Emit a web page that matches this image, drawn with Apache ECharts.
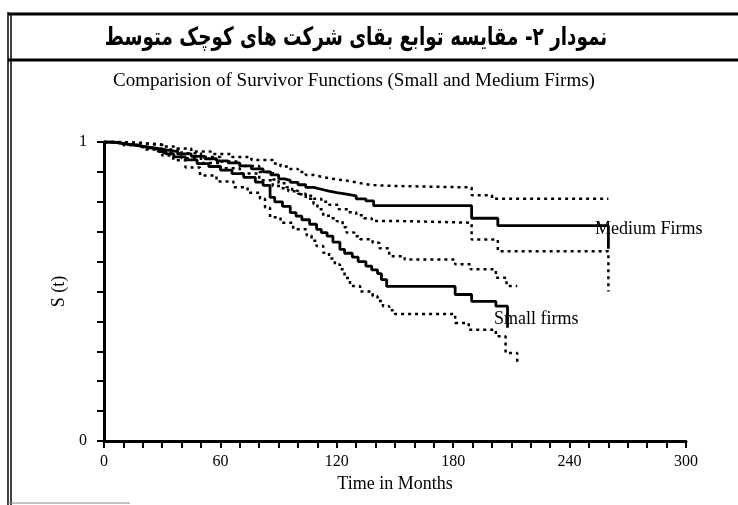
<!DOCTYPE html>
<html>
<head>
<meta charset="utf-8">
<style>
  html, body { margin: 0; padding: 0; background: #fff; }
  #chart { width: 738px; height: 505px; }
</style>
<script src="https://cdn.jsdelivr.net/npm/echarts@6/dist/echarts.min.js"></script>
</head>
<body>
<div id="chart"></div>
<script>
// Kaplan-Meier curves: [month, S(t)]
var mediumFirms = [
  [0, 1], [5, 0.995], [10, 0.99], [15, 0.985], [20, 0.98], [26, 0.974], [32, 0.968],
  [38, 0.96], [45, 0.952], [52, 0.944], [58, 0.937], [64, 0.93], [70, 0.92], [76, 0.91],
  [82, 0.9], [86, 0.89], [90, 0.877], [93, 0.872], [96, 0.865], [100, 0.857], [104, 0.848],
  [108, 0.842], [112, 0.836], [116, 0.831], [120, 0.826], [125, 0.82], [130, 0.81],
  [135, 0.803], [139, 0.787], [189.5, 0.745], [203, 0.72], [260, 0.643]
]
var mediumUpper = [
  [0, 1], [10, 0.997], [20, 0.992], [30, 0.985], [36, 0.978], [45, 0.968], [55, 0.96],
  [66, 0.95], [76, 0.94], [87, 0.928], [91, 0.918], [95, 0.91], [100, 0.9], [104, 0.89],
  [108, 0.884], [112, 0.878], [117, 0.874], [121, 0.87], [126, 0.865], [130, 0.86],
  [134, 0.856], [138, 0.853], [150, 0.848], [189.5, 0.822], [200, 0.81], [260, 0.81]
]
var mediumLower = [
  [0, 1], [10, 0.99], [20, 0.978], [30, 0.962], [40, 0.946], [50, 0.93], [60, 0.912],
  [70, 0.895], [80, 0.872], [87, 0.853], [91, 0.845], [95, 0.835], [100, 0.827],
  [104, 0.82], [108, 0.81], [112, 0.8], [116, 0.79], [121, 0.775], [126, 0.765],
  [130, 0.755], [134, 0.745], [138, 0.736], [150, 0.73], [189.5, 0.674], [203, 0.635],
  [260, 0.5]
]
var smallFirms = [
  [0, 1], [4, 0.997], [8, 0.993], [12, 0.99], [16, 0.985], [20, 0.98], [24, 0.975],
  [28, 0.968], [32, 0.96], [36, 0.95], [42, 0.94], [48, 0.928], [54, 0.918], [60, 0.906],
  [66, 0.894], [72, 0.882], [78, 0.866], [82, 0.855], [85.6, 0.815], [88, 0.8],
  [92, 0.785], [96, 0.764], [99, 0.752], [102, 0.74], [106, 0.725], [109.6, 0.708],
  [112, 0.697], [115, 0.685], [118, 0.665], [121.6, 0.641], [124, 0.628], [128, 0.615],
  [131, 0.6], [135, 0.585], [138, 0.572], [141, 0.56], [143, 0.54], [145.7, 0.517],
  [181, 0.49], [189.5, 0.467], [202, 0.451], [208, 0.379]
]
var smallUpper = [
  [0, 1], [10, 0.995], [20, 0.99], [30, 0.975], [40, 0.962], [50, 0.95], [60, 0.935],
  [70, 0.92], [80, 0.9], [87, 0.875], [90, 0.862], [94, 0.849], [97, 0.837], [100, 0.825],
  [104, 0.81], [108, 0.793], [110, 0.775], [113, 0.753], [117, 0.745], [120, 0.735],
  [123, 0.715], [125, 0.697], [129, 0.685], [132, 0.675], [138.5, 0.663], [142, 0.645],
  [147, 0.618], [155, 0.607], [181, 0.591], [189, 0.574], [202, 0.546], [207.5, 0.518],
  [213, 0.518]
]
var smallLower = [
  [0, 1], [10, 0.99], [20, 0.975], [30, 0.955], [35.7, 0.939], [42, 0.915], [49.5, 0.888],
  [58, 0.868], [66.7, 0.849], [74, 0.83], [80.4, 0.81], [83, 0.78], [85.6, 0.748],
  [91, 0.73], [97.5, 0.708], [104.5, 0.687], [107, 0.67], [109.6, 0.652], [113, 0.63],
  [116, 0.61], [119, 0.59], [121.6, 0.574], [124, 0.545], [126.8, 0.518], [132, 0.5],
  [138.5, 0.484], [141, 0.468], [143.8, 0.451], [147, 0.437], [150, 0.425], [181, 0.395],
  [188, 0.372], [202, 0.35], [207, 0.294], [213, 0.26]
]
var xLabelTicks = [0, 60, 120, 180, 240, 300]
var yLabelTicks = [0, 1]

var chart = echarts.init(document.getElementById('chart'))

function curve(name, data, dotted) {
  return {
    name: name,
    type: 'line',
    step: 'end',
    showSymbol: false,
    symbol: 'none',
    data: data,
    lineStyle: dotted
      ? { color: '#000', width: 2.5, type: [3, 4] }
      : { color: '#000', width: 2.8 }
  }
}

var serif = '"Liberation Serif", "DejaVu Serif", serif'

chart.setOption({
  animation: false,
  backgroundColor: '#fff',
  grid: { left: 104, right: 52, top: 142, bottom: 64 },
  xAxis: {
    type: 'value',
    min: 0,
    max: 300,
    interval: 10,
    name: 'Time in Months',
    nameLocation: 'middle',
    nameGap: 33,
    nameTextStyle: { color: '#000', fontSize: 18, fontFamily: serif },
    axisLine: { lineStyle: { color: '#000', width: 3 } },
    axisTick: { length: 7, lineStyle: { color: '#000', width: 2 } },
    axisLabel: {
      color: '#000', fontSize: 16, fontFamily: serif, margin: 13,
      formatter: function (v) { return xLabelTicks.indexOf(v) >= 0 ? String(v) : '' }
    },
    splitLine: { show: false }
  },
  yAxis: {
    type: 'value',
    min: 0,
    max: 1,
    interval: 0.1,
    name: 'S (t)',
    nameLocation: 'middle',
    nameGap: 33,
    nameRotate: 90,
    nameTextStyle: { color: '#000', fontSize: 18, fontFamily: serif },
    axisLine: { show: true, lineStyle: { color: '#000', width: 3 } },
    axisTick: { show: true, length: 7, lineStyle: { color: '#000', width: 2 } },
    axisLabel: {
      color: '#000', fontSize: 16, fontFamily: serif, margin: 17,
      formatter: function (v) {
        var r = Math.round(v * 10) / 10
        return yLabelTicks.indexOf(r) >= 0 ? String(r) : ''
      }
    },
    splitLine: { show: false }
  },
  series: [
    curve('Medium Firms', mediumFirms, false),
    curve('Medium upper', mediumUpper, true),
    curve('Medium lower', mediumLower, true),
    curve('Small firms', smallFirms, false),
    curve('Small upper', smallUpper, true),
    curve('Small lower', smallLower, true)
  ],
  graphic: [
    // frame of the scanned page
    { type: 'line', shape: { x1: 8, y1: 14, x2: 738, y2: 14 }, style: { stroke: '#000', lineWidth: 3 } },
    { type: 'line', shape: { x1: 8, y1: 60, x2: 738, y2: 60 }, style: { stroke: '#000', lineWidth: 3 } },
    { type: 'line', shape: { x1: 8, y1: 12, x2: 8, y2: 505 }, style: { stroke: '#000', lineWidth: 1.5 } },
    { type: 'line', shape: { x1: 11, y1: 14, x2: 11, y2: 505 }, style: { stroke: '#000', lineWidth: 1.5 } },
    { type: 'line', shape: { x1: 8, y1: 503, x2: 130, y2: 503 }, style: { stroke: '#888', lineWidth: 1 } },
    {
      type: 'text', x: 356, y: 38, scaleX: 0.8, scaleY: 1.1,
      style: {
        text: 'نمودار ۲- مقایسه توابع بقای شرکت های کوچک متوسط',
        fill: '#000', font: 'bold 23px "DejaVu Sans", sans-serif',
        align: 'center', verticalAlign: 'middle'
      }
    },
    {
      type: 'text', x: 354, y: 81,
      style: {
        text: 'Comparision of Survivor Functions (Small and Medium Firms)',
        fill: '#000', font: '19px ' + serif,
        align: 'center', verticalAlign: 'middle'
      }
    },
    {
      type: 'text', left: 595, top: 220,
      style: { text: 'Medium Firms', fill: '#000', font: '18px ' + serif }
    },
    {
      type: 'text', left: 494, top: 310,
      style: { text: 'Small firms', fill: '#000', font: '18px ' + serif }
    }
  ]
})
</script>
</body>
</html>
